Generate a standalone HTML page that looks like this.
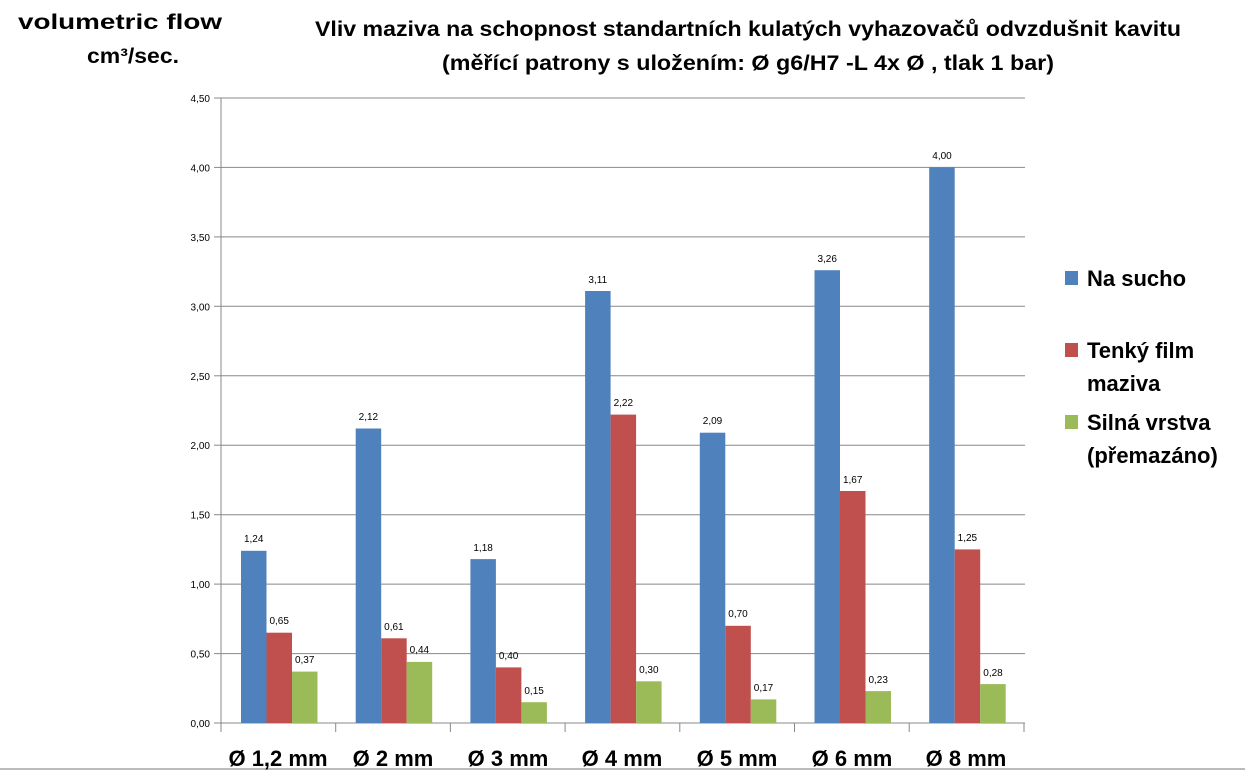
<!DOCTYPE html><html><head><meta charset="utf-8"><style>body{margin:0;background:#fff}svg{display:block}</style></head><body>
<svg width="1245" height="771" xmlns="http://www.w3.org/2000/svg" font-family="Liberation Sans, sans-serif">
<rect width="1245" height="771" fill="#fff"/>
<g stroke="#888" stroke-width="1">
<line x1="221" x2="1025" y1="653.6" y2="653.6"/><line x1="221" x2="1025" y1="584.1" y2="584.1"/><line x1="221" x2="1025" y1="514.7" y2="514.7"/><line x1="221" x2="1025" y1="445.2" y2="445.2"/><line x1="221" x2="1025" y1="375.8" y2="375.8"/><line x1="221" x2="1025" y1="306.3" y2="306.3"/><line x1="221" x2="1025" y1="236.9" y2="236.9"/><line x1="221" x2="1025" y1="167.4" y2="167.4"/><line x1="221" x2="1025" y1="98" y2="98"/>
<line x1="214" x2="221" y1="653.6" y2="653.6"/><line x1="214" x2="221" y1="584.1" y2="584.1"/><line x1="214" x2="221" y1="514.7" y2="514.7"/><line x1="214" x2="221" y1="445.2" y2="445.2"/><line x1="214" x2="221" y1="375.8" y2="375.8"/><line x1="214" x2="221" y1="306.3" y2="306.3"/><line x1="214" x2="221" y1="236.9" y2="236.9"/><line x1="214" x2="221" y1="167.4" y2="167.4"/><line x1="214" x2="221" y1="98" y2="98"/>
<line x1="214" x2="1025" y1="723" y2="723"/>
<line x1="221" x2="221" y1="98" y2="732"/>
<line x1="335.7" x2="335.7" y1="723" y2="732"/><line x1="450.4" x2="450.4" y1="723" y2="732"/><line x1="565.1" x2="565.1" y1="723" y2="732"/><line x1="679.8" x2="679.8" y1="723" y2="732"/><line x1="794.5" x2="794.5" y1="723" y2="732"/><line x1="909.2" x2="909.2" y1="723" y2="732"/><line x1="1024" x2="1024" y1="723" y2="732"/>
</g>
<line x1="0" x2="1245" y1="769" y2="769" stroke="#bbb" stroke-width="2"/>
<g font-size="10" text-anchor="end" fill="#000">
<text x="210" y="727">0,00</text><text x="210" y="657.6">0,50</text><text x="210" y="588.1">1,00</text><text x="210" y="518.7">1,50</text><text x="210" y="449.2">2,00</text><text x="210" y="379.8">2,50</text><text x="210" y="310.3">3,00</text><text x="210" y="240.9">3,50</text><text x="210" y="171.4">4,00</text><text x="210" y="102">4,50</text>
</g>
<g fill="#4f81bd">
<rect x="241" y="550.8" width="25.5" height="172.2"/><rect x="355.7" y="428.5" width="25.5" height="294.5"/><rect x="470.4" y="559.1" width="25.5" height="163.9"/><rect x="585.1" y="291" width="25.5" height="432"/><rect x="699.8" y="432.7" width="25.5" height="290.3"/><rect x="814.5" y="270.2" width="25.5" height="452.8"/><rect x="929.2" y="167.4" width="25.5" height="555.6"/>
</g>
<g fill="#c0504d">
<rect x="266.5" y="632.7" width="25.5" height="90.3"/><rect x="381.2" y="638.3" width="25.5" height="84.7"/><rect x="495.9" y="667.4" width="25.5" height="55.6"/><rect x="610.6" y="414.6" width="25.5" height="308.4"/><rect x="725.3" y="625.8" width="25.5" height="97.2"/><rect x="840" y="491" width="25.5" height="232"/><rect x="954.7" y="549.4" width="25.5" height="173.6"/>
</g>
<g fill="#9bbb59">
<rect x="292" y="671.6" width="25.5" height="51.4"/><rect x="406.7" y="661.9" width="25.5" height="61.1"/><rect x="521.4" y="702.2" width="25.5" height="20.8"/><rect x="636.1" y="681.3" width="25.5" height="41.7"/><rect x="750.8" y="699.4" width="25.5" height="23.6"/><rect x="865.5" y="691.1" width="25.5" height="31.9"/><rect x="980.2" y="684.1" width="25.5" height="38.9"/>
</g>
<g font-size="10" text-anchor="middle" fill="#000">
<text x="253.7" y="542">1,24</text><text x="368.4" y="420">2,12</text><text x="483.1" y="551">1,18</text><text x="597.8" y="283">3,11</text><text x="712.5" y="424">2,09</text><text x="827.2" y="262">3,26</text><text x="942" y="159">4,00</text>
<text x="279.2" y="624">0,65</text><text x="393.9" y="630">0,61</text><text x="508.6" y="659">0,40</text><text x="623.3" y="406">2,22</text><text x="738" y="617">0,70</text><text x="852.7" y="483">1,67</text><text x="967.4" y="541">1,25</text>
<text x="304.7" y="663">0,37</text><text x="419.4" y="653">0,44</text><text x="534.1" y="694">0,15</text><text x="648.8" y="673">0,30</text><text x="763.5" y="691">0,17</text><text x="878.2" y="683">0,23</text><text x="993" y="676">0,28</text>
</g>
<g font-size="22" font-weight="bold" text-anchor="middle" fill="#000">
<text x="278" y="766">Ø 1,2 mm</text><text x="393" y="766">Ø 2 mm</text><text x="508" y="766">Ø 3 mm</text><text x="622" y="766">Ø 4 mm</text><text x="737" y="766">Ø 5 mm</text><text x="852" y="766">Ø 6 mm</text><text x="966" y="766">Ø 8 mm</text>
</g>
<g font-size="21" font-weight="bold" fill="#000">
<text x="748" y="36" text-anchor="middle" textLength="866" lengthAdjust="spacingAndGlyphs">Vliv maziva na  schopnost standartních  kulatých vyhazovačů odvzdušnit kavitu</text>
<text x="748" y="70" text-anchor="middle" textLength="612" lengthAdjust="spacingAndGlyphs">(měřící patrony s uložením: Ø g6/H7 -L 4x Ø , tlak 1 bar)</text>
<text x="120" y="29" text-anchor="middle" textLength="204" lengthAdjust="spacingAndGlyphs">volumetric flow</text>
<text x="133" y="63" text-anchor="middle" textLength="92" lengthAdjust="spacingAndGlyphs">cm³/sec.</text>
</g>
<rect x="1065" y="271" width="13" height="14" fill="#4f81bd"/>
<rect x="1065" y="343" width="13" height="14" fill="#c0504d"/>
<rect x="1065" y="415" width="13" height="14" fill="#9bbb59"/>
<g font-size="22" font-weight="bold" fill="#000">
<text x="1087" y="286">Na sucho</text>
<text x="1087" y="358">Tenký film</text>
<text x="1087" y="391">maziva</text>
<text x="1087" y="430">Silná vrstva</text>
<text x="1087" y="463">(přemazáno)</text>
</g>
</svg>
</body></html>
